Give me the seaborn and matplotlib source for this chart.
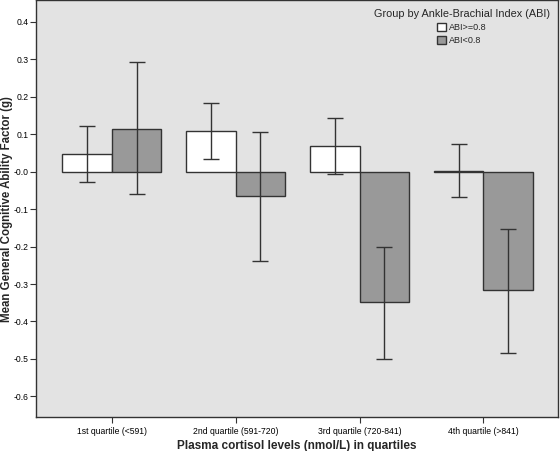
import numpy as np
import pandas as pd
import seaborn as sns
import matplotlib.pyplot as plt

quartiles = ["1st quartile (<591)", "2nd quartile (591-720)",
             "3rd quartile (720-841)", "4th quartile (>841)"]
groups = ["ABI>=0.8", "ABI<0.8"]

mean_high = [0.048, 0.108, 0.068, 0.002]
low_high = [-0.028, 0.035, -0.006, -0.068]
up_high = [0.122, 0.182, 0.142, 0.073]

mean_low = [0.115, -0.066, -0.349, -0.317]
low_low = [-0.061, -0.239, -0.499, -0.485]
up_low = [0.292, 0.105, -0.200, -0.152]

df = pd.DataFrame({
    "quartile": quartiles * 2,
    "group": [groups[0]] * 4 + [groups[1]] * 4,
    "mean": mean_high + mean_low,
    "lo": low_high + low_low,
    "hi": up_high + up_low,
})

sns.set_style("ticks")
plt.rcParams['font.family'] = ['Liberation Sans', 'DejaVu Sans']

fig = plt.figure(figsize=(5.6, 4.51), dpi=100)
ax = fig.add_axes([0.064, 0.0754, 0.933, 0.9236])
ax.set_facecolor('#e3e3e3')

sns.barplot(data=df, x="quartile", y="mean", hue="group", order=quartiles,
            hue_order=groups, palette=["#ffffff", "#999999"], errorbar=None,
            edgecolor="#333333", linewidth=1.0, width=0.8, ax=ax)

# error bars at the centres of the drawn bars
for patch_group, g in zip(ax.containers, groups):
    sub = df[df["group"] == g].set_index("quartile").loc[quartiles]
    xs = [p.get_x() + p.get_width() / 2 for p in patch_group.patches]
    m = sub["mean"].values
    ax.errorbar(xs, m, yerr=[m - sub["lo"].values, sub["hi"].values - m],
                fmt='none', ecolor='#333333', elinewidth=1.0, capsize=6,
                capthick=1.0, zorder=5)

ax.set_xlim(-0.614, 3.605)
ax.set_ylim(-0.655, 0.457)
ax.set_yticks(np.arange(-0.6, 0.41, 0.1))
ax.set_yticklabels([f"{v:.1f}" for v in np.arange(-0.6, 0.41, 0.1)])
ax.tick_params(axis='both', labelsize=6.2, length=4, width=0.8, colors='#333333')
ax.tick_params(axis='both', labelcolor='black')
ax.tick_params(axis='y', pad=1)

for s in ax.spines.values():
    s.set_visible(True)
    s.set_color('#333333')
    s.set_linewidth(1.0)

ax.set_xlabel("Plasma cortisol levels (nmol/L) in quartiles", fontsize=8.5,
              fontweight='bold')
ax.set_ylabel("Mean General Cognitive Ability Factor (g)", fontsize=8.3,
              fontweight='bold')
ax.xaxis.set_label_coords(0.5, -0.055)
ax.yaxis.set_label_coords(-0.0445, 0.5)

leg = ax.legend(title="Group by Ankle-Brachial Index (ABI)", loc='upper right',
                bbox_to_anchor=(0.994, 0.993), frameon=False, fontsize=6.5,
                title_fontsize=7.8, handlelength=1.0, handleheight=1.0,
                handletextpad=0.3, labelspacing=0.45, borderaxespad=0.2)

fig.savefig("out.png", dpi=100)
